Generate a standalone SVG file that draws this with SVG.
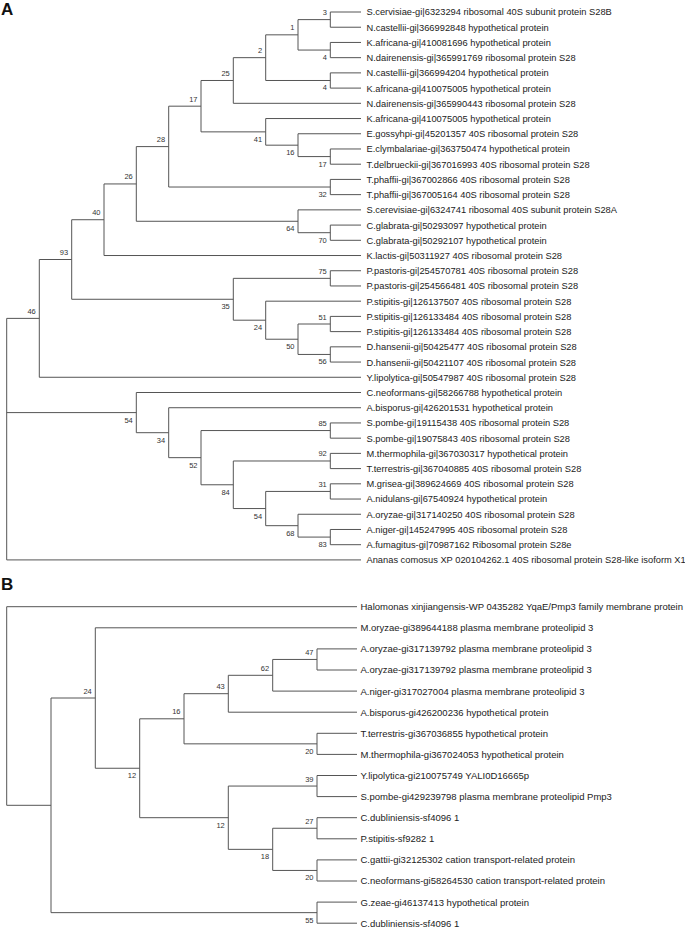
<svg xmlns="http://www.w3.org/2000/svg" width="685" height="928" viewBox="0 0 685 928">
<style>
.br{fill:none;stroke:#555;stroke-width:1}
.lf{font-family:"Liberation Sans",Arial,sans-serif;font-size:9.3px;fill:#222}
.lfb{font-family:"Liberation Sans",Arial,sans-serif;font-size:9.5px;fill:#222}
.bs{font-family:"Liberation Sans",Arial,sans-serif;font-size:7.5px;fill:#333;text-anchor:end}
.pl{font-family:"Liberation Sans",Arial,sans-serif;font-size:17px;font-weight:bold;fill:#111}
</style>
<rect width="685" height="928" fill="#fff"/>
<text class="pl" x="1" y="15">A</text>
<text class="pl" x="1" y="590">B</text>

<g id="connectors-A">
<path class="br" d="M361 12H330.3V27.22H361"/>
<path class="br" d="M361 42.44H330.3V57.66H361"/>
<path class="br" d="M330.3 19.61H298V50.05H330.3"/>
<path class="br" d="M361 72.88H330.3V88.1H361"/>
<path class="br" d="M298 34.83H265.7V80.49H330.3"/>
<path class="br" d="M265.7 57.66H233.3V103.32H361"/>
<path class="br" d="M361 148.98H330.3V164.2H361"/>
<path class="br" d="M361 133.76H298V156.59H330.3"/>
<path class="br" d="M361 118.54H265.7V145.18H298"/>
<path class="br" d="M233.3 80.49H201V131.86H265.7"/>
<path class="br" d="M361 179.42H330.3V194.64H361"/>
<path class="br" d="M201 106.18H168.7V187.03H330.3"/>
<path class="br" d="M361 225.08H330.3V240.3H361"/>
<path class="br" d="M361 209.86H298V232.69H330.3"/>
<path class="br" d="M168.7 146.6H136.3V221.28H298"/>
<path class="br" d="M136.3 183.94H104V255.52H361"/>
<path class="br" d="M361 270.74H330.3V285.96H361"/>
<path class="br" d="M361 316.4H330.3V331.62H361"/>
<path class="br" d="M361 346.84H330.3V362.06H361"/>
<path class="br" d="M330.3 324.01H298V354.45H330.3"/>
<path class="br" d="M361 301.18H265.7V339.23H298"/>
<path class="br" d="M330.3 278.35H233.3V320.2H265.7"/>
<path class="br" d="M104 219.73H71.7V299.28H233.3"/>
<path class="br" d="M71.7 259.5H39.3V377.28H361"/>
<path class="br" d="M361 422.94H330.3V438.16H361"/>
<path class="br" d="M361 453.38H330.3V468.6H361"/>
<path class="br" d="M361 483.82H330.3V499.04H361"/>
<path class="br" d="M361 529.48H330.3V544.7H361"/>
<path class="br" d="M361 514.26H298V537.09H330.3"/>
<path class="br" d="M330.3 491.43H265.7V525.68H298"/>
<path class="br" d="M330.3 460.99H233.3V508.55H265.7"/>
<path class="br" d="M330.3 430.55H201V484.77H233.3"/>
<path class="br" d="M361 407.72H168.7V457.66H201"/>
<path class="br" d="M361 392.5H136.3V432.69H168.7"/>
<path class="br" d="M39.3 318.39H6.7V559.92H361M6.7 412.6H136.3"/>
</g>

<g id="connectors-B">
<path class="br" d="M357 606.7H6.7V805.3H51"/>
<path class="br" d="M95.3 698H51V912.65H317"/>
<path class="br" d="M357 627.8H95.3V768.25H139.7"/>
<path class="br" d="M184 718.8H139.7V817.7H228.3"/>
<path class="br" d="M228.3 693.7H184V743.85H317"/>
<path class="br" d="M272.7 675.3H228.3V712.2H357"/>
<path class="br" d="M317 659.45H272.7V691.1H357"/>
<path class="br" d="M357 648.9H317V670H357"/>
<path class="br" d="M357 733.3H317V754.4H357"/>
<path class="br" d="M317 786.05H228.3V849.35H272.7"/>
<path class="br" d="M357 775.5H317V796.6H357"/>
<path class="br" d="M317 828.25H272.7V870.45H317"/>
<path class="br" d="M357 817.7H317V838.8H357"/>
<path class="br" d="M357 859.9H317V881H357"/>
<path class="br" d="M357 902.1H317V923.2H357"/>
</g>

<g id="leaves-A">
<g id="a0"><text class="lf" x="366.5" y="15.4">S.cervisiae-gi|6323294 ribosomal 40S subunit protein S28B</text></g>
<g id="a1"><text class="lf" x="366.5" y="30.6">N.castellii-gi|366992848 hypothetical protein</text></g>
<g id="a2"><text class="lf" x="366.5" y="45.8">K.africana-gi|410081696 hypothetical protein</text></g>
<g id="a3"><text class="lf" x="366.5" y="61.1">N.dairenensis-gi|365991769 ribosomal protein S28</text></g>
<g id="a4"><text class="lf" x="366.5" y="76.3">N.castellii-gi|366994204 hypothetical protein</text></g>
<g id="a5"><text class="lf" x="366.5" y="91.5">K.africana-gi|410075005 hypothetical protein</text></g>
<g id="a6"><text class="lf" x="366.5" y="106.7">N.dairenensis-gi|365990443 ribosomal protein S28</text></g>
<g id="a7"><text class="lf" x="366.5" y="121.9">K.africana-gi|410075005 hypothetical protein</text></g>
<g id="a8"><text class="lf" x="366.5" y="137.2">E.gossyhpi-gi|45201357 40S ribosomal protein S28</text></g>
<g id="a9"><text class="lf" x="366.5" y="152.4">E.clymbalariae-gi|363750474 hypothetical protein</text></g>
<g id="a10"><text class="lf" x="366.5" y="167.6">T.delbrueckii-gi|367016993 40S ribosomal protein S28</text></g>
<g id="a11"><text class="lf" x="366.5" y="182.8">T.phaffii-gi|367002866 40S ribosomal protein S28</text></g>
<g id="a12"><text class="lf" x="366.5" y="198">T.phaffii-gi|367005164 40S ribosomal protein S28</text></g>
<g id="a13"><text class="lf" x="366.5" y="213.3">S.cerevisiae-gi|6324741 ribosomal 40S subunit protein S28A</text></g>
<g id="a14"><text class="lf" x="366.5" y="228.5">C.glabrata-gi|50293097 hypothetical protein</text></g>
<g id="a15"><text class="lf" x="366.5" y="243.7">C.glabrata-gi|50292107 hypothetical protein</text></g>
<g id="a16"><text class="lf" x="366.5" y="258.9">K.lactis-gi|50311927 40S ribosomal protein S28</text></g>
<g id="a17"><text class="lf" x="366.5" y="274.1">P.pastoris-gi|254570781 40S ribosomal protein S28</text></g>
<g id="a18"><text class="lf" x="366.5" y="289.4">P.pastoris-gi|254566481 40S ribosomal protein S28</text></g>
<g id="a19"><text class="lf" x="366.5" y="304.6">P.stipitis-gi|126137507 40S ribosomal protein S28</text></g>
<g id="a20"><text class="lf" x="366.5" y="319.8">P.stipitis-gi|126133484 40S ribosomal protein S28</text></g>
<g id="a21"><text class="lf" x="366.5" y="335">P.stipitis-gi|126133484 40S ribosomal protein S28</text></g>
<g id="a22"><text class="lf" x="366.5" y="350.2">D.hansenii-gi|50425477 40S ribosomal protein S28</text></g>
<g id="a23"><text class="lf" x="366.5" y="365.5">D.hansenii-gi|50421107 40S ribosomal protein S28</text></g>
<g id="a24"><text class="lf" x="366.5" y="380.7">Y.lipolytica-gi|50547987 40S ribosomal protein S28</text></g>
<g id="a25"><text class="lf" x="366.5" y="395.9">C.neoformans-gi|58266788 hypothetical protein</text></g>
<g id="a26"><text class="lf" x="366.5" y="411.1">A.bisporus-gi|426201531 hypothetical protein</text></g>
<g id="a27"><text class="lf" x="366.5" y="426.3">S.pombe-gi|19115438 40S ribosomal protein S28</text></g>
<g id="a28"><text class="lf" x="366.5" y="441.6">S.pombe-gi|19075843 40S ribosomal protein S28</text></g>
<g id="a29"><text class="lf" x="366.5" y="456.8">M.thermophila-gi|367030317 hypothetical protein</text></g>
<g id="a30"><text class="lf" x="366.5" y="472">T.terrestris-gi|367040885 40S ribosomal protein S28</text></g>
<g id="a31"><text class="lf" x="366.5" y="487.2">M.grisea-gi|389624669 40S ribosomal protein S28</text></g>
<g id="a32"><text class="lf" x="366.5" y="502.4">A.nidulans-gi|67540924 hypothetical protein</text></g>
<g id="a33"><text class="lf" x="366.5" y="517.7">A.oryzae-gi|317140250 40S ribosomal protein S28</text></g>
<g id="a34"><text class="lf" x="366.5" y="532.9">A.niger-gi|145247995 40S ribosomal protein S28</text></g>
<g id="a35"><text class="lf" x="366.5" y="548.1">A.fumagitus-gi|70987162 Ribosomal protein S28e</text></g>
<g id="a36"><text class="lf" x="366.5" y="563.3">Ananas comosus XP 020104262.1 40S ribosomal protein S28-like isoform X1</text></g>
</g>

<g id="support-A">
<g id="na3"><text class="bs" x="326.8" y="15.1">3</text></g>
<g id="na4a"><text class="bs" x="326.8" y="60.05">4</text></g>
<g id="na1"><text class="bs" x="294.5" y="30.33">1</text></g>
<g id="na4b"><text class="bs" x="326.8" y="90.49">4</text></g>
<g id="na2"><text class="bs" x="262.2" y="53.16">2</text></g>
<g id="na25"><text class="bs" x="229.8" y="75.99">25</text></g>
<g id="na41"><text class="bs" x="262.2" y="141.86">41</text></g>
<g id="na16"><text class="bs" x="294.5" y="155.18">16</text></g>
<g id="na17b"><text class="bs" x="326.8" y="166.59">17</text></g>
<g id="na17"><text class="bs" x="197.5" y="101.68">17</text></g>
<g id="na32"><text class="bs" x="326.8" y="197.03">32</text></g>
<g id="na28"><text class="bs" x="165.2" y="142.1">28</text></g>
<g id="na70"><text class="bs" x="326.8" y="242.69">70</text></g>
<g id="na64"><text class="bs" x="294.5" y="231.28">64</text></g>
<g id="na26"><text class="bs" x="132.8" y="179.44">26</text></g>
<g id="na40"><text class="bs" x="100.5" y="215.23">40</text></g>
<g id="na75"><text class="bs" x="326.8" y="273.85">75</text></g>
<g id="na51"><text class="bs" x="326.8" y="319.51">51</text></g>
<g id="na56"><text class="bs" x="326.8" y="364.45">56</text></g>
<g id="na50"><text class="bs" x="294.5" y="349.23">50</text></g>
<g id="na24"><text class="bs" x="262.2" y="330.2">24</text></g>
<g id="na35"><text class="bs" x="229.8" y="309.28">35</text></g>
<g id="na93"><text class="bs" x="68.2" y="255">93</text></g>
<g id="na46"><text class="bs" x="35.8" y="313.89">46</text></g>
<g id="na85"><text class="bs" x="326.8" y="426.05">85</text></g>
<g id="na92"><text class="bs" x="326.8" y="456.49">92</text></g>
<g id="na31"><text class="bs" x="326.8" y="486.93">31</text></g>
<g id="na83"><text class="bs" x="326.8" y="547.09">83</text></g>
<g id="na68"><text class="bs" x="294.5" y="535.68">68</text></g>
<g id="na54b"><text class="bs" x="262.2" y="518.55">54</text></g>
<g id="na84"><text class="bs" x="229.8" y="494.77">84</text></g>
<g id="na52"><text class="bs" x="197.5" y="467.66">52</text></g>
<g id="na34"><text class="bs" x="165.2" y="442.69">34</text></g>
<g id="na54a"><text class="bs" x="132.8" y="422.6">54</text></g>
</g>

<g id="leaves-B">
<g id="b0"><text class="lfb" x="360.5" y="610.1">Halomonas xinjiangensis-WP 0435282 YqaE/Pmp3 family membrane protein</text></g>
<g id="b1"><text class="lfb" x="360.5" y="631.2">M.oryzae-gi389644188 plasma membrane proteolipid 3</text></g>
<g id="b2"><text class="lfb" x="360.5" y="652.3">A.oryzae-gi317139792 plasma membrane proteolipid 3</text></g>
<g id="b3"><text class="lfb" x="360.5" y="673.4">A.oryzae-gi317139792 plasma membrane proteolipid 3</text></g>
<g id="b4"><text class="lfb" x="360.5" y="694.5">A.niger-gi317027004 plasma membrane proteolipid 3</text></g>
<g id="b5"><text class="lfb" x="360.5" y="715.6">A.bisporus-gi426200236 hypothetical protein</text></g>
<g id="b6"><text class="lfb" x="360.5" y="736.7">T.terrestris-gi367036855 hypothetical protein</text></g>
<g id="b7"><text class="lfb" x="360.5" y="757.8">M.thermophila-gi367024053 hypothetical protein</text></g>
<g id="b8"><text class="lfb" x="360.5" y="778.9">Y.lipolytica-gi210075749 YALI0D16665p</text></g>
<g id="b9"><text class="lfb" x="360.5" y="800">S.pombe-gi429239798 plasma membrane proteolipid Pmp3</text></g>
<g id="b10"><text class="lfb" x="360.5" y="821.1">C.dubliniensis-sf4096 1</text></g>
<g id="b11"><text class="lfb" x="360.5" y="842.2">P.stipitis-sf9282 1</text></g>
<g id="b12"><text class="lfb" x="360.5" y="863.3">C.gattii-gi32125302 cation transport-related protein</text></g>
<g id="b13"><text class="lfb" x="360.5" y="884.4">C.neoformans-gi58264530 cation transport-related protein</text></g>
<g id="b14"><text class="lfb" x="360.5" y="905.5">G.zeae-gi46137413 hypothetical protein</text></g>
<g id="b15"><text class="lfb" x="360.5" y="926.6">C.dubliniensis-sf4096 1</text></g>
</g>

<g id="support-B">
<g id="nb24"><text class="bs" x="91.8" y="693.5">24</text></g>
<g id="nb12a"><text class="bs" x="136.2" y="778.25">12</text></g>
<g id="nb16"><text class="bs" x="180.5" y="714.3">16</text></g>
<g id="nb43"><text class="bs" x="224.8" y="689.2">43</text></g>
<g id="nb62"><text class="bs" x="269.2" y="670.8">62</text></g>
<g id="nb47"><text class="bs" x="313.5" y="654.95">47</text></g>
<g id="nb20a"><text class="bs" x="313.5" y="753.85">20</text></g>
<g id="nb12b"><text class="bs" x="224.8" y="827.7">12</text></g>
<g id="nb39"><text class="bs" x="313.5" y="781.55">39</text></g>
<g id="nb18"><text class="bs" x="269.2" y="859.35">18</text></g>
<g id="nb27"><text class="bs" x="313.5" y="823.75">27</text></g>
<g id="nb20b"><text class="bs" x="313.5" y="880.45">20</text></g>
<g id="nb55"><text class="bs" x="313.5" y="922.65">55</text></g>
</g>
</svg>
